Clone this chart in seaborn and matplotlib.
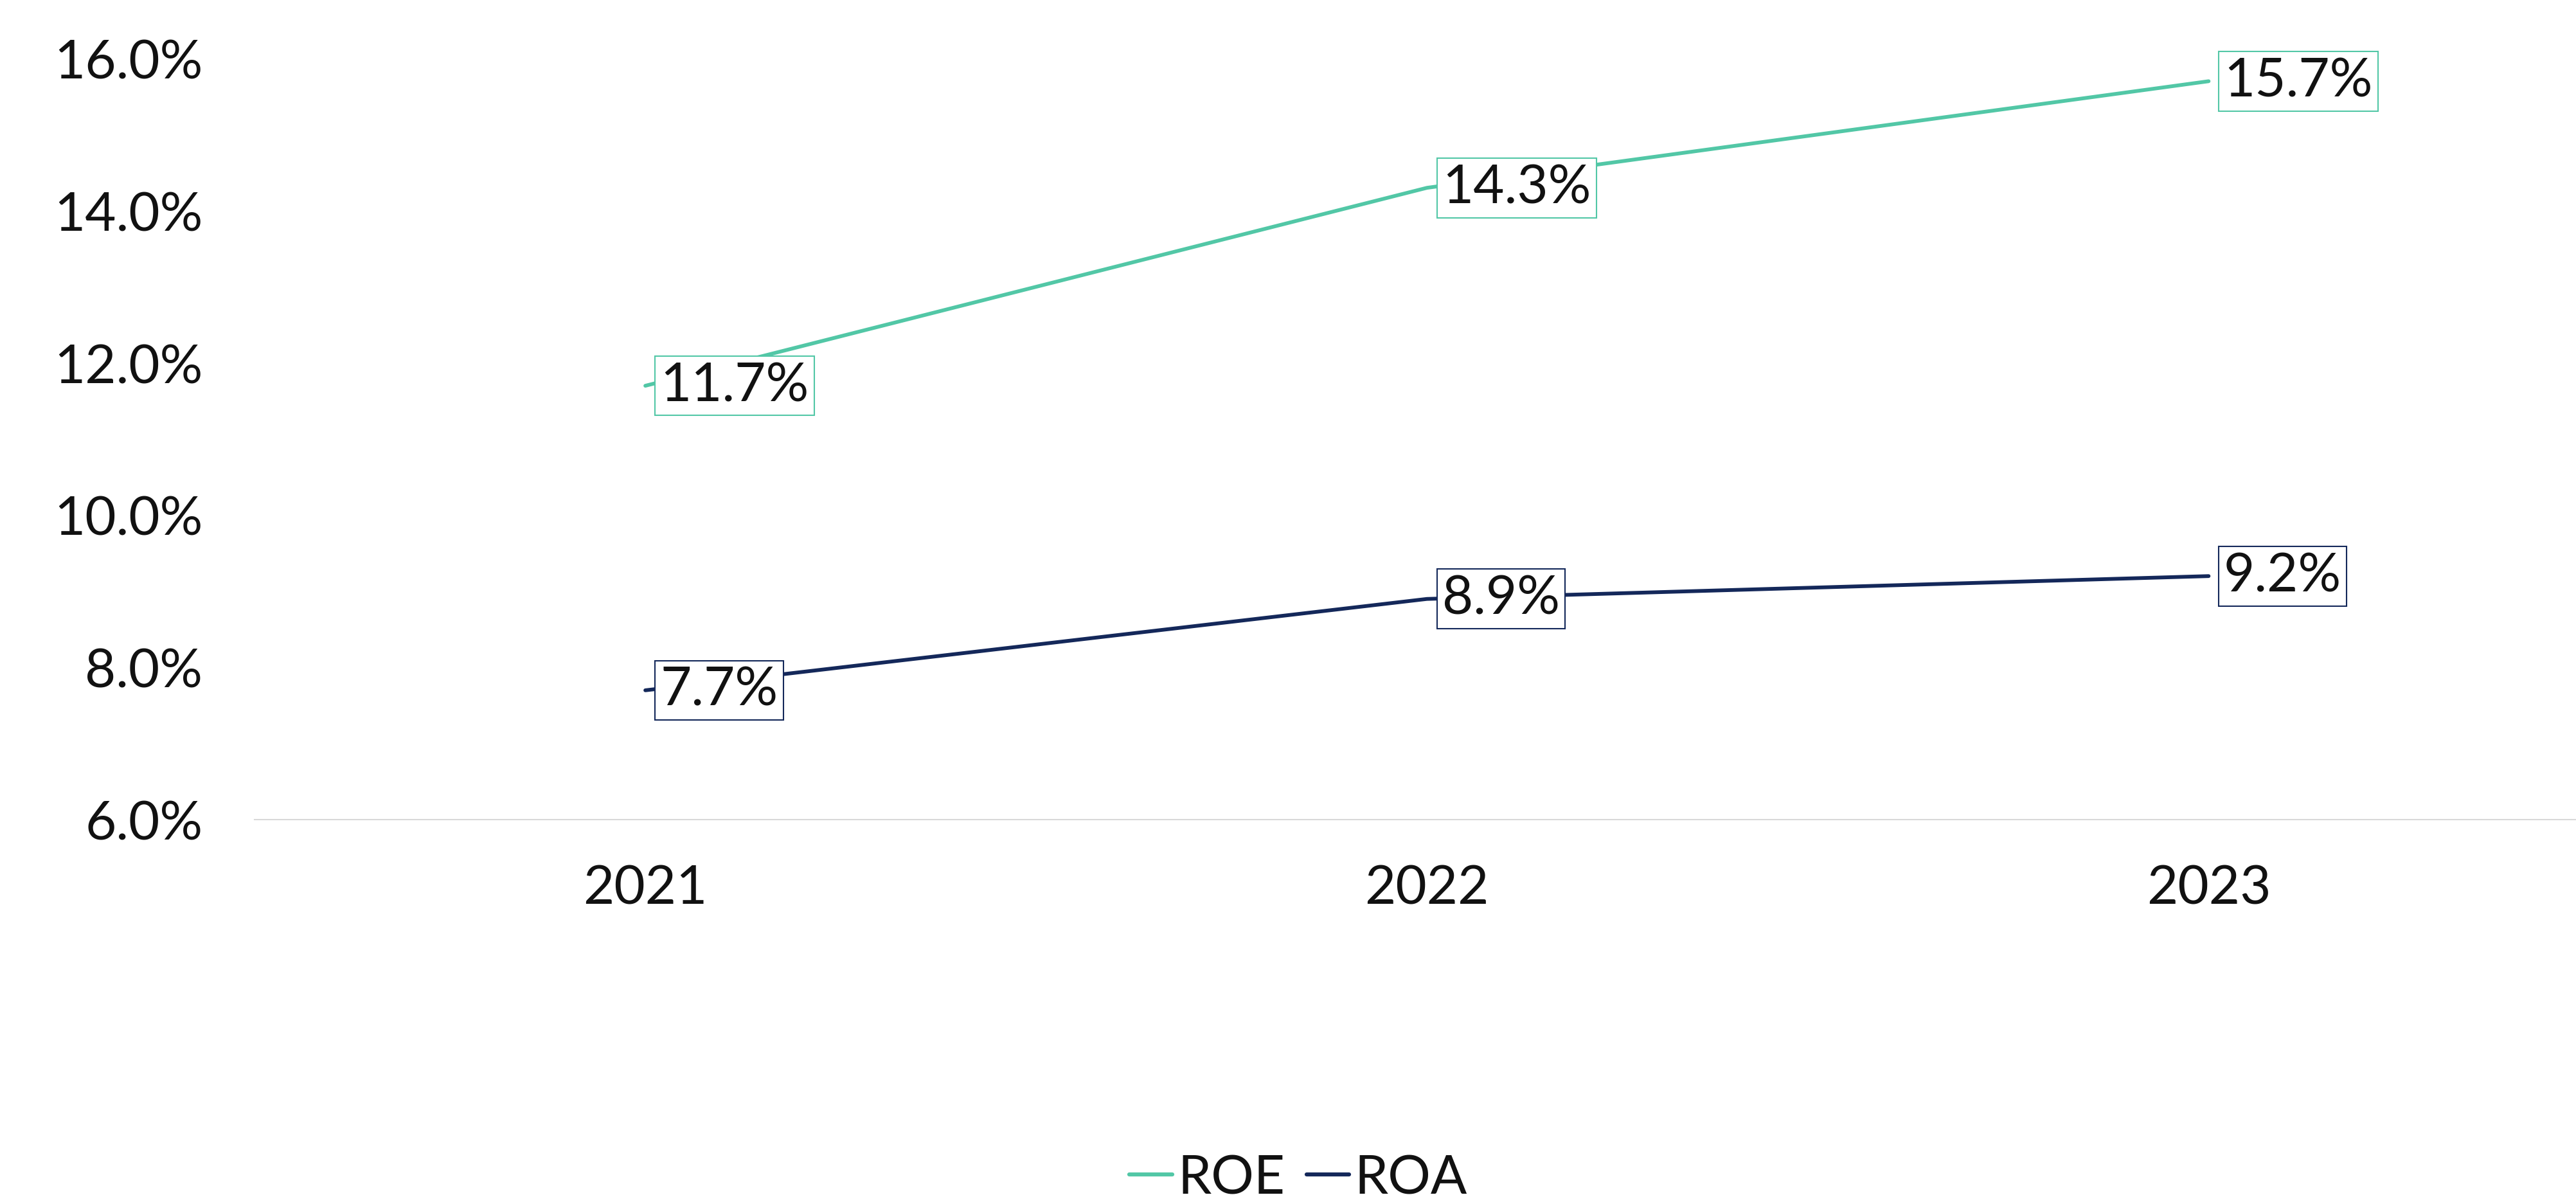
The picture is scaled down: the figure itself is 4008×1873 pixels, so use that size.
"""
ROE / ROA trend line chart, 2021-2023.
"""

import pandas as pd
import matplotlib.pyplot as plt
import seaborn as sns
from matplotlib.ticker import FuncFormatter


# ── Data ──────────────────────────────────────────────────────────────────────

years = ["2021", "2022", "2023"]
roe = [11.7, 14.3, 15.7]
roa = [7.7, 8.9, 9.2]
series_names = ["ROE", "ROA"]
colors = {"ROE": "#52C7A6", "ROA": "#14285A"}

df = pd.DataFrame({
    "year": years * 2,
    "value": roe + roa,
    "metric": ["ROE"] * len(years) + ["ROA"] * len(years),
})


# ── Plot ──────────────────────────────────────────────────────────────────────

sns.set_theme(style="white")
plt.rcParams["font.family"] = ["Lato", "DejaVu Sans"]

FS = 60
TXT = "#111111"

fig = plt.figure(figsize=(40.08, 18.74), dpi=100)
ax = fig.add_axes([0.0988, 0.319, 0.9012, 0.632])

sns.lineplot(
    data=df, x="year", y="value", hue="metric",
    hue_order=series_names, palette=colors,
    linewidth=4.2, ax=ax, legend=False, sort=False,
)

ax.set_ylim(6, 16)
ax.set_xlim(-0.5, 2.47)
ax.set_yticks([6, 8, 10, 12, 14, 16])
ax.yaxis.set_major_formatter(FuncFormatter(lambda v, _: f"{v:.1f}%"))

for side in ("top", "right", "left"):
    ax.spines[side].set_visible(False)
ax.spines["bottom"].set_color("#D9D9D9")
ax.spines["bottom"].set_linewidth(1.5)

ax.tick_params(axis="y", length=0, pad=58, labelsize=FS, colors=TXT)
ax.tick_params(axis="x", length=0, pad=50, labelsize=FS, colors=TXT)
ax.set_xlabel("")
ax.set_ylabel("")

# boxed value labels to the right of each point
for name, vals in zip(series_names, [roe, roa]):
    for i, v in enumerate(vals):
        ax.annotate(
            f"{v:.1f}%", xy=(i, v), xytext=(17, 0), textcoords="offset points",
            ha="left", va="center", fontsize=FS, color=TXT,
            bbox=dict(boxstyle="square,pad=0.1", fc="white", ec=colors[name], lw=1.5),
            zorder=5,
        )

handles = [plt.Line2D([0], [0], color=colors[n], lw=4.5) for n in series_names]
leg = fig.legend(
    handles, series_names, loc="center", bbox_to_anchor=(0.504, 0.021),
    ncol=2, frameon=False, fontsize=FS, handlelength=0.8,
    handletextpad=0.1, columnspacing=0.4,
)
for t in leg.get_texts():
    t.set_color(TXT)

fig.savefig("out.png", dpi=100)
